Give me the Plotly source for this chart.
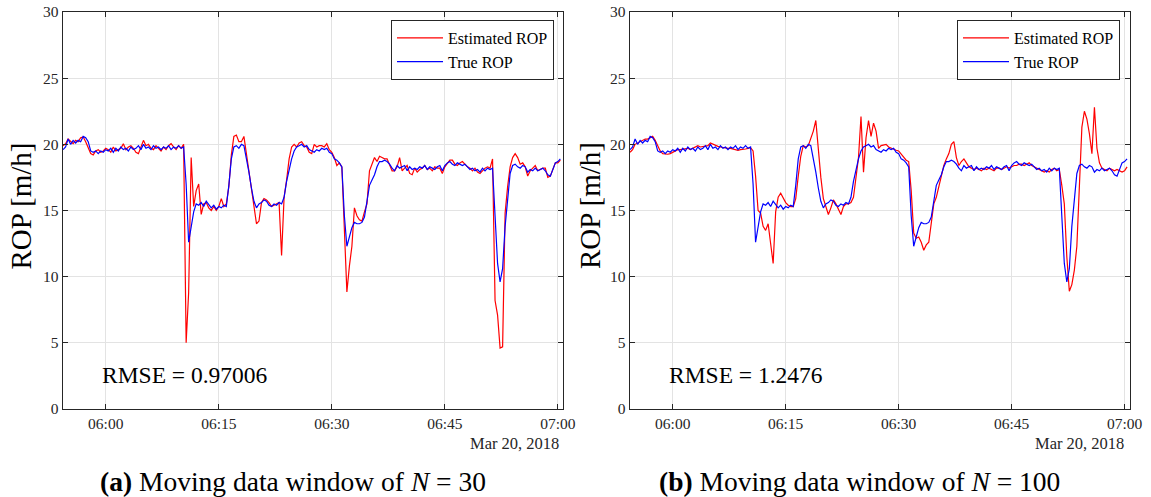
import pandas as pd
import plotly.graph_objects as go

START = "2018-03-20 05:54:20"
STEP = "20s"

true_rop = [
    19.6, 19.8,
    20.4, 20.0, 20.3, 20.1, 20.3, 20.2, 20.6, 20.5, 20.2,
    19.5, 19.4, 19.5, 19.3, 19.5, 19.4,
    19.6, 19.5, 19.7, 19.4, 19.7, 19.5, 19.8, 19.6, 19.7,
    19.5, 19.8, 19.6, 19.7, 19.9, 19.6, 20.0, 19.7, 19.8,
    19.6, 19.9, 19.7, 19.8, 19.6, 19.8, 19.7, 19.9, 19.6,
    19.8, 19.7, 19.9, 19.7, 19.8, 17.0,
    12.6, 13.9, 14.9, 15.5, 15.4, 15.6, 15.3, 15.7, 15.4,
    15.2, 15.4, 15.1, 15.3, 15.2, 15.4, 15.3, 16.9, 18.9,
    19.8, 19.9, 19.7, 20.0, 19.9, 19.0, 17.9, 16.7, 15.7,
    15.2, 15.5, 15.6, 15.8, 15.7, 15.4, 15.3, 15.5, 15.4,
    15.6, 15.5, 16.0, 17.2, 18.2, 18.9, 19.5, 19.8, 19.9,
    20.0, 19.8, 19.9, 19.6, 19.5, 19.4, 19.6, 19.5, 19.7,
    19.6, 19.7, 19.4, 19.3, 18.9, 18.8, 18.6, 18.3, 14.6,
    12.3, 13.0, 13.7, 14.1, 14.0, 14.0, 14.1, 14.5, 15.8,
    16.9, 17.3, 17.7, 18.3, 18.7, 18.7, 18.8, 18.7, 18.5,
    18.2, 18.0, 18.4, 18.2, 18.3, 18.4, 18.0, 18.3, 18.1,
    18.2, 18.1, 18.3, 18.2, 18.4, 18.1, 18.3, 18.2, 18.1,
    18.3, 18.4, 18.0, 18.4, 18.6, 18.7, 18.5, 18.4, 18.6,
    18.5, 18.4, 18.5, 18.3, 18.1, 18.2, 18.0, 18.1, 17.9,
    18.2, 18.0, 18.2, 18.1, 18.2, 15.0,
    11.0, 9.6, 10.6, 13.8, 16.0, 17.8,
    18.4, 18.5, 18.3, 18.2, 18.4, 18.3, 17.9, 18.1, 18.0,
    18.2, 18.0, 18.1, 18.2, 18.0, 17.7, 17.6, 18.1, 18.6,
    18.7, 18.9,
]

est_rop_n30 = [
    19.9, 20.05,
    20.4, 20.2, 20.05, 20.3, 20.2, 20.5, 20.55, 20.2, 19.7,
    19.3, 19.2, 19.5, 19.6, 19.4, 19.5,
    19.7, 19.6, 19.4, 19.8, 19.5, 19.6, 19.7, 20.05, 19.6,
    19.8, 19.9, 19.7, 19.4, 19.3, 19.8, 20.3, 19.9, 20.0,
    19.7, 19.6, 19.9, 19.7, 19.5, 19.8, 19.6, 19.9, 20.05,
    19.8, 19.6, 19.9, 19.7, 20.0, 5.0,
    8.8, 19.0, 15.3, 16.5, 17.0, 14.7, 15.5, 15.6, 15.2,
    15.0, 15.3, 15.0, 15.3, 15.9, 15.3, 15.5, 16.8, 19.2,
    20.6, 20.7, 20.2, 20.2, 20.6, 19.3, 18.0, 16.5, 15.1,
    14.0, 14.2, 15.6, 15.9, 15.8, 15.6, 15.3, 15.4, 15.5,
    15.6, 11.6, 16.0, 17.3, 18.9, 19.8, 20.0, 19.8, 20.1,
    20.2, 19.9, 19.8, 19.4, 19.3, 20.0, 19.8, 19.9, 19.9,
    19.8, 20.05, 19.6, 19.4, 19.0, 18.4, 18.6, 18.3, 13.5,
    8.85, 10.8, 12.3, 15.2, 14.6, 14.3, 14.2, 14.9, 15.5,
    18.0, 18.5, 19.0, 18.7, 19.1, 19.0, 18.9, 18.9, 18.5,
    18.0, 18.0, 18.3, 19.0, 18.0, 18.2, 18.4, 17.8, 17.7,
    18.2, 17.9, 18.1, 18.2, 18.4, 18.1, 18.2, 18.0, 18.3,
    18.2, 18.2, 17.8, 18.3, 18.6, 18.8, 18.8, 18.5, 18.4,
    18.6, 18.7, 18.5, 18.3, 18.2, 18.0, 18.2, 17.9, 17.8,
    18.0, 18.2, 18.3, 18.2, 18.9, 8.2,
    7.1, 4.6, 4.7, 14.8, 16.8, 18.3,
    19.0, 19.3, 19.0, 18.5, 18.6, 18.3, 17.6, 18.0, 18.2,
    18.4, 18.0, 18.1, 18.2, 18.2, 17.5, 17.6, 18.1, 18.6,
    18.6, 18.8,
]

est_rop_n100 = [
    19.4, 19.6,
    20.0, 20.1, 20.2, 20.3, 20.4, 20.4, 20.5, 20.6, 20.3,
    19.9, 19.5, 19.3, 19.25, 19.25, 19.3,
    19.4, 19.5, 19.6, 19.6, 19.65, 19.7, 19.7, 19.6, 19.7,
    19.8, 19.9, 19.8, 19.85, 19.9, 19.9, 20.1, 20.0, 19.9,
    19.85, 19.8, 19.75, 19.75, 19.7, 19.7, 19.65, 19.6, 19.55,
    19.6, 19.6, 19.65, 19.7, 19.75, 19.5,
    17.6, 15.0, 14.8, 13.8, 13.5, 14.0, 12.3, 11.0, 14.9,
    16.0, 16.3, 15.9, 15.6, 15.4, 15.3, 15.3, 15.9, 17.6,
    19.1, 19.9, 19.8, 19.9, 20.4, 21.0, 21.8, 19.5, 17.5,
    15.9, 15.2, 14.7, 15.2, 15.8, 15.5, 15.1, 14.7, 15.3,
    15.5, 15.5, 15.6, 16.0, 17.5, 19.0, 22.1, 17.9, 20.5,
    21.8, 20.6, 21.6, 21.0, 19.7, 19.9, 19.95, 20.0, 19.8,
    19.7, 19.65, 19.55, 19.5, 19.25, 19.0, 18.8, 18.7, 16.5,
    13.3, 12.9, 13.0, 12.6, 12.0, 12.4, 12.6, 14.0, 15.5,
    16.0, 16.8, 17.6, 18.4, 18.9, 19.3, 20.0, 20.2, 19.0,
    18.4, 18.7, 18.9, 18.6, 18.3, 18.2, 18.1, 18.2, 18.1,
    18.0, 18.2, 18.1, 18.2, 18.1, 18.0, 18.2, 18.2, 18.1,
    18.2, 18.3, 18.2, 18.3, 18.4, 18.4, 18.5, 18.5, 18.4,
    18.5, 18.6, 18.4, 18.3, 18.2, 18.1, 18.0, 17.9, 18.0,
    17.9, 18.1, 18.2, 18.0, 18.1, 16.9,
    15.5, 11.5, 8.9, 9.4, 10.5, 12.3,
    16.5, 21.3, 22.5, 21.9, 20.8, 19.3, 22.8, 19.7, 18.6,
    18.2, 18.1, 18.0, 18.2, 18.1, 18.0, 18.1, 18.0, 17.9,
    18.0, 18.3,
]

y_ticks = [0, 5, 10, 15, 20, 25, 30]
x_tick_labels = ["06:00", "06:15", "06:30", "06:45", "07:00"]
x_tick_times = ["2018-03-20 06:00", "2018-03-20 06:15", "2018-03-20 06:30",
                "2018-03-20 06:45", "2018-03-20 07:00"]
x_range = ["2018-03-20 05:54:17", "2018-03-20 07:00:41"]
rmse_values = ["0.97006", "1.2476"]
captions = ["<b>(a)</b> Moving data window of <i>N</i> = 30",
            "<b>(b)</b> Moving data window of <i>N</i> = 100"]
date_label = "Mar 20, 2018"

W, H = 1151, 497
TOP, BOT = 12, 409
FONT = "Liberation Serif"
AX = "#262626"
GRID = "#e3e3e3"

def px_x(p):
    return p / W

def px_y(p):
    return (BOT - p) / (BOT - TOP)

t_true = pd.date_range(START, periods=len(true_rop), freq=STEP)
t_n30 = pd.date_range(START, periods=len(est_rop_n30), freq=STEP)
t_n100 = pd.date_range(START, periods=len(est_rop_n100), freq=STEP)

fig = go.Figure()
panels = [
    dict(xa="x", ya="y", est=(t_n30, est_rop_n30), leg="legend"),
    dict(xa="x2", ya="y2", est=(t_n100, est_rop_n100), leg="legend2"),
]
for p in panels:
    fig.add_trace(go.Scatter(x=p["est"][0], y=p["est"][1], mode="lines",
                             name="Estimated ROP", line=dict(color="#ff0000", width=1.2),
                             xaxis=p["xa"], yaxis=p["ya"], legend=p["leg"]))
    fig.add_trace(go.Scatter(x=t_true, y=true_rop, mode="lines",
                             name="True ROP", line=dict(color="#0000ff", width=1.2),
                             xaxis=p["xa"], yaxis=p["ya"], legend=p["leg"]))

dom_l = [px_x(62.7), px_x(563.0)]
dom_r = [px_x(629.7), px_x(1129.7)]

xcommon = dict(range=x_range, tickvals=x_tick_times, ticktext=x_tick_labels,
               showgrid=True, gridcolor=GRID, gridwidth=1, automargin=False,
               showline=True, linecolor=AX, linewidth=1, mirror="ticks",
               ticks="inside", ticklen=5, tickcolor=AX, tickwidth=1,
               tickfont=dict(family=FONT, size=15.5, color=AX), zeroline=False)
ycommon = dict(range=[0, 30], tickvals=y_ticks, showgrid=True, gridcolor=GRID, gridwidth=1,
               automargin=False,
               showline=True, linecolor=AX, linewidth=1, mirror="ticks",
               ticks="inside", ticklen=5, tickcolor=AX, tickwidth=1,
               tickfont=dict(family=FONT, size=15.5, color=AX), zeroline=False)

legcommon = dict(bgcolor="white", bordercolor=AX, borderwidth=1,
                 font=dict(family=FONT, size=16, color="#000000"),
                 xanchor="right", yanchor="top", y=px_y(20),
                 tracegroupgap=0, itemwidth=46)

fig.update_layout(
    width=W, height=H,
    margin=dict(l=0, r=0, t=TOP, b=H - BOT, pad=0, autoexpand=False),
    paper_bgcolor="white", plot_bgcolor="white",
    xaxis=dict(domain=dom_l, anchor="y", **xcommon),
    yaxis=dict(domain=[0, 1], anchor="x", **ycommon),
    xaxis2=dict(domain=dom_r, anchor="y2", **xcommon),
    yaxis2=dict(domain=[0, 1], anchor="x2", **ycommon),
    legend=dict(x=px_x(554), **legcommon),
    legend2=dict(x=px_x(1120), **legcommon),
    font=dict(family=FONT),
)

ann = []
for i, (xl, rmse, cap, capx, datex, ylx) in enumerate([
        (99.9, rmse_values[0], captions[0], 292.6, 560.5, 20.5),
        (666.9, rmse_values[1], captions[1], 859.5, 1126.0, 590.0)]):
    ann.append(dict(x=px_x(xl), y=px_y(375), xref="paper", yref="paper",
                    text=f"RMSE = {rmse}", showarrow=False, xanchor="left", yanchor="middle",
                    font=dict(family=FONT, size=23.5, color="#000000")))
    ann.append(dict(x=px_x(capx), y=px_y(481.5), xref="paper", yref="paper",
                    text=cap, showarrow=False, xanchor="center", yanchor="middle",
                    font=dict(family=FONT, size=27.5, color="#000000")))
    ann.append(dict(x=px_x(datex), y=px_y(443), xref="paper", yref="paper",
                    text=date_label, showarrow=False, xanchor="right", yanchor="middle",
                    font=dict(family=FONT, size=16.5, color=AX)))
    ann.append(dict(x=px_x(ylx), y=px_y(206), xref="paper", yref="paper",
                    text="ROP [m/h]", showarrow=False, xanchor="center", yanchor="middle",
                    textangle=-90, font=dict(family=FONT, size=29, color="#000000")))
fig.update_layout(annotations=ann)

fig.write_html("out.html")
